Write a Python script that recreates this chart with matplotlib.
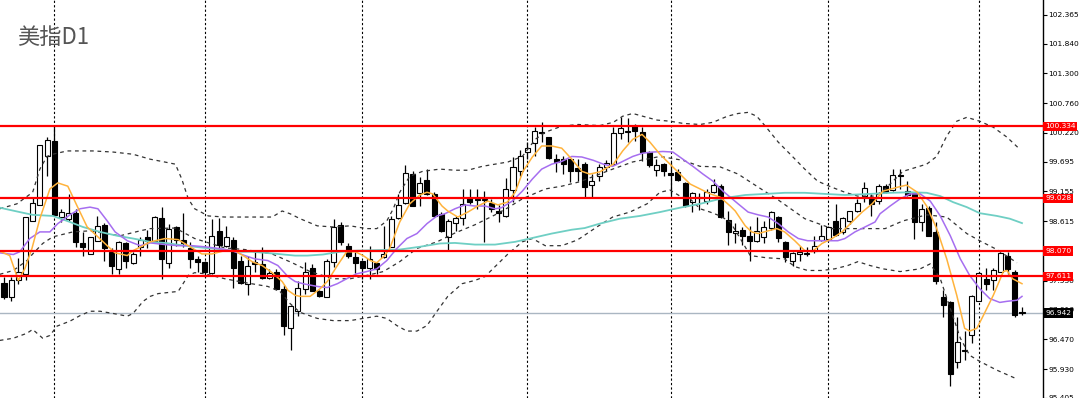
import matplotlib
matplotlib.use("Agg")
import matplotlib.pyplot as plt
from matplotlib.patches import Rectangle
from matplotlib.transforms import blended_transform_factory

# daily candles, oldest first
opens = [97.50, 97.23, 97.54, 97.65, 98.62, 98.91, 99.79, 100.07, 98.69, 98.66,
         98.76, 98.22, 98.01, 98.26, 98.55, 98.06, 97.75, 98.22, 97.86, 98.15,
         98.33, 98.26, 98.67, 97.86, 98.51, 98.28, 98.12, 97.92, 97.88, 97.68,
         98.44, 98.17, 98.28, 97.90, 97.48, 97.88, 97.84, 97.59, 97.70, 97.39,
         96.67, 96.99, 97.39, 97.77, 97.34, 97.23, 97.88, 98.55, 98.17, 97.97,
         97.90, 97.77, 97.86, 97.97, 98.15, 98.68, 98.95, 99.47, 99.13, 99.36,
         99.11, 98.75, 98.33, 98.58, 98.67, 99.04, 99.02, 99.02, 98.95, 98.80,
         98.71, 99.18, 99.52, 99.87, 100.03, 100.23, 100.14, 99.74, 99.74, 99.74,
         99.58, 99.65, 99.27, 99.43, 99.60, 99.65, 100.21, 100.23, 100.34, 100.23,
         99.87, 99.54, 99.65, 99.49, 99.51, 99.31, 98.96, 99.04, 98.98, 99.14,
         99.25, 98.64, 98.40, 98.46, 98.35, 98.26, 98.33, 98.50, 98.69, 98.24,
         97.90, 98.01, 98.04, 98.08, 98.28, 98.30, 98.62, 98.42, 98.62, 98.80,
         99.07, 99.02, 98.98, 99.25, 99.18, 99.45, 99.16, 99.13, 98.60, 98.86,
         98.42, 97.23, 97.14, 96.06, 96.27, 96.54, 97.16, 97.56, 97.54, 97.70,
         97.99, 97.70, 96.97]
highs = [97.61, 97.61, 97.95, 98.69, 99.04, 99.99, 100.14, 100.36, 98.84, 99.11,
         98.84, 98.42, 98.33, 98.71, 98.58, 98.12, 98.26, 98.24, 98.06, 98.33,
         98.46, 98.71, 98.87, 98.57, 98.53, 98.77, 98.24, 97.99, 97.90, 98.66,
         98.67, 98.53, 98.33, 97.99, 97.99, 98.08, 98.15, 97.75, 97.75, 97.45,
         97.09, 97.52, 97.88, 97.84, 97.36, 97.93, 98.66, 98.60, 98.21, 98.06,
         97.90, 98.17, 97.88, 98.53, 98.71, 99.11, 99.63, 99.52, 99.42, 99.56,
         99.14, 98.78, 98.66, 98.71, 99.20, 99.20, 99.20, 99.16, 99.02, 98.91,
         99.40, 99.78, 99.90, 100.05, 100.32, 100.41, 100.14, 99.83, 99.80, 99.74,
         99.74, 99.69, 99.47, 99.65, 99.72, 100.32, 100.50, 100.48, 100.37, 100.32,
         99.89, 99.74, 99.67, 99.69, 99.56, 99.32, 99.14, 99.13, 99.20, 99.38,
         99.29, 98.80, 98.58, 98.51, 98.53, 98.69, 98.62, 98.80, 98.71, 98.26,
         98.06, 98.17, 98.15, 98.35, 98.55, 98.53, 98.93, 98.69, 98.80, 99.02,
         99.32, 99.11, 99.29, 99.29, 99.56, 99.56, 99.34, 99.14, 98.93, 98.89,
         98.60, 97.36, 97.16, 96.87, 96.62, 97.27, 97.70, 97.77, 97.77, 98.06,
         98.06, 97.72, 97.05]
lows = [97.21, 97.16, 97.47, 97.54, 98.62, 98.91, 99.43, 98.73, 98.60, 98.62,
        98.15, 97.99, 98.01, 98.26, 97.90, 97.65, 97.66, 97.77, 97.83, 97.99,
        98.12, 98.24, 97.57, 97.77, 98.17, 98.15, 97.77, 97.70, 97.61, 97.66,
        98.13, 98.15, 97.41, 97.48, 97.27, 97.70, 97.57, 97.57, 97.36, 96.54,
        96.27, 96.90, 97.30, 97.34, 97.23, 97.23, 97.79, 98.19, 97.95, 97.68,
        97.57, 97.56, 97.65, 97.95, 98.15, 98.66, 98.93, 98.89, 98.89, 99.09,
        98.69, 98.42, 98.08, 98.44, 98.55, 98.93, 98.84, 98.24, 98.78, 98.60,
        98.69, 98.96, 99.43, 99.74, 99.80, 100.05, 99.74, 99.51, 99.47, 99.32,
        99.34, 99.05, 99.05, 99.34, 99.52, 99.63, 100.10, 100.05, 100.07, 99.70,
        99.60, 99.43, 99.43, 99.07, 99.34, 98.87, 98.78, 98.82, 98.93, 99.13,
        98.67, 98.19, 98.21, 98.19, 97.90, 98.24, 98.22, 98.46, 98.24, 97.88,
        97.81, 97.90, 97.99, 98.03, 98.26, 98.26, 98.35, 98.39, 98.57, 98.78,
        98.96, 98.71, 98.93, 99.13, 99.16, 99.20, 99.07, 98.30, 98.44, 98.35,
        97.48, 96.87, 95.62, 95.95, 96.09, 96.40, 97.16, 97.36, 97.36, 97.70,
        97.66, 96.87, 96.92]
closes = [97.23, 97.54, 97.70, 98.69, 98.95, 99.99, 100.08, 98.73, 98.78, 98.76,
          98.24, 98.15, 98.33, 98.53, 98.12, 97.81, 98.24, 97.90, 98.01, 98.28,
          98.26, 98.69, 97.92, 98.48, 98.28, 98.21, 97.92, 97.88, 97.70, 98.35,
          98.19, 98.33, 97.77, 97.50, 97.81, 97.83, 97.59, 97.68, 97.39, 96.71,
          97.07, 97.41, 97.70, 97.34, 97.25, 97.90, 98.51, 98.24, 97.99, 97.86,
          97.77, 97.93, 97.74, 98.01, 98.66, 98.91, 99.49, 98.89, 99.31, 99.11,
          98.71, 98.44, 98.62, 98.67, 98.93, 98.96, 99.00, 99.00, 98.84, 98.77,
          99.20, 99.60, 99.80, 99.94, 100.26, 100.21, 99.76, 99.69, 99.65, 99.52,
          99.52, 99.23, 99.34, 99.60, 99.67, 100.21, 100.30, 100.26, 100.25, 99.87,
          99.63, 99.63, 99.52, 99.45, 99.36, 98.89, 99.13, 99.06, 99.14, 99.27,
          98.69, 98.42, 98.44, 98.35, 98.26, 98.44, 98.51, 98.78, 98.31, 97.97,
          98.03, 98.06, 98.02, 98.17, 98.35, 98.51, 98.37, 98.67, 98.80, 98.95,
          99.22, 98.93, 99.25, 99.15, 99.45, 99.43, 99.09, 98.60, 98.84, 98.35,
          97.52, 97.10, 95.84, 96.42, 96.26, 97.25, 97.68, 97.47, 97.72, 98.04,
          97.74, 96.92, 96.94]

# indicator lines (x = candle index)
ma5_x = [-0.4, 0.8, 2.0, 2.9, 3.9, 5.0, 6.4, 7.5, 8.9, 10.2, 11.6, 13.1, 14.4, 15.5, 17.2,
         18.0, 19.4, 20.4, 22.5, 24.3, 25.7, 27.6, 29.0, 30.8, 32.2, 33.6, 34.6, 36.0, 37.4,
         38.8, 39.6, 40.6, 41.3, 42.7, 44.1, 45.1, 46.5, 47.8, 49.0, 50.1, 51.1, 52.0, 53.1,
         53.8, 55.2, 56.6, 58.0, 59.0, 59.8, 61.1, 61.9, 63.3, 64.7, 66.1, 67.5, 68.9, 70.2,
         71.3, 72.4, 73.7, 75.0, 76.4, 77.8, 79.2, 80.6, 81.7, 83.1, 85.0, 86.3, 87.7, 89.0,
         90.1, 91.5, 92.9, 94.3, 95.7, 97.1, 98.5, 99.9, 101.3, 102.0, 103.4, 104.3, 105.2,
         106.6, 107.8, 108.9, 110.3, 111.7, 112.7, 114.1, 115.5, 116.9, 118.3, 119.7, 121.1,
         122.6, 124.6, 125.9, 127.4, 128.7, 130.1, 131.5, 132.9, 134.0, 134.7, 135.7, 136.6,
         138.0, 139.4, 139.9, 140.7, 142.0]
ma5_y = [98.06, 97.99, 97.54, 97.75, 98.12, 98.66, 99.20, 99.31, 99.25, 98.89, 98.51, 98.33,
         98.17, 98.04, 97.99, 98.08, 98.17, 98.24, 98.30, 98.28, 98.17, 98.02, 98.02, 98.08,
         98.08, 97.97, 97.88, 97.81, 97.68, 97.52, 97.36, 97.27, 97.25, 97.25, 97.39, 97.52,
         97.81, 98.06, 98.06, 97.99, 97.90, 97.86, 97.99, 98.12, 98.60, 98.93, 99.09, 99.14,
         99.11, 98.89, 98.80, 98.69, 98.78, 98.89, 98.98, 98.91, 98.96, 99.14, 99.52, 99.78,
         99.98, 99.98, 99.94, 99.74, 99.52, 99.47, 99.51, 99.65, 99.89, 100.10, 100.19, 100.05,
         99.83, 99.65, 99.47, 99.29, 99.20, 99.11, 99.05, 98.89, 98.80, 98.53, 98.42, 98.39,
         98.44, 98.48, 98.42, 98.26, 98.08, 98.06, 98.21, 98.30, 98.42, 98.60, 98.78, 98.93,
         99.16, 99.23, 99.27, 99.14, 98.89, 98.48, 97.93, 97.27, 96.67, 96.62, 96.67, 96.90,
         97.27, 97.70, 97.72, 97.57, 97.48]

ma10_x = [-0.6, 1.3, 2.2, 3.6, 5.0, 6.4, 7.5, 9.2, 10.6, 12.0, 13.1, 14.4, 15.5, 17.2, 19.0,
          20.4, 22.5, 24.3, 26.2, 28.0, 29.9, 31.8, 33.6, 35.0, 36.8, 38.2, 39.6, 40.6, 41.7,
          43.7, 45.1, 46.5, 47.8, 49.2, 50.6, 52.0, 53.4, 54.8, 56.2, 57.6, 59.0, 60.4, 61.5,
          62.9, 64.3, 65.7, 67.1, 68.5, 69.4, 70.9, 72.3, 73.7, 75.0, 76.4, 77.8, 79.2, 80.6,
          82.2, 83.6, 84.9, 86.3, 87.7, 89.1, 90.5, 91.9, 93.3, 94.7, 96.1, 97.5, 98.9, 100.3,
          101.3, 102.4, 103.8, 105.2, 106.6, 108.0, 109.4, 110.8, 112.1, 113.5, 114.9, 116.3,
          117.3, 118.7, 120.1, 121.5, 122.2, 123.6, 125.0, 126.4, 127.8, 129.2, 130.6, 132.0,
          133.4, 134.7, 136.1, 137.5, 138.9, 139.9, 141.3, 142.0]
ma10_y = [98.04, 98.01, 98.06, 98.30, 98.42, 98.42, 98.57, 98.73, 98.84, 98.87, 98.84, 98.62,
          98.42, 98.26, 98.17, 98.22, 98.19, 98.17, 98.17, 98.15, 98.12, 98.08, 97.99, 97.93,
          97.90, 97.81, 97.61, 97.52, 97.48, 97.43, 97.41, 97.48, 97.57, 97.66, 97.70, 97.75,
          97.90, 98.12, 98.30, 98.39, 98.57, 98.71, 98.75, 98.84, 98.91, 98.89, 98.89, 98.84,
          98.86, 98.98, 99.16, 99.38, 99.56, 99.65, 99.70, 99.79, 99.78, 99.72, 99.65, 99.61,
          99.70, 99.79, 99.85, 99.87, 99.88, 99.87, 99.74, 99.61, 99.47, 99.34, 99.16, 99.05,
          98.93, 98.78, 98.73, 98.69, 98.57, 98.42, 98.30, 98.26, 98.26, 98.26, 98.26, 98.30,
          98.42, 98.51, 98.60, 98.75, 98.89, 99.02, 99.11, 99.11, 98.98, 98.71, 98.35, 97.93,
          97.63, 97.39, 97.21, 97.14, 97.16, 97.18, 97.25]

ma60_x = [-0.6, 2.2, 4.0, 6.8, 8.8, 11.0, 13.4, 15.8, 18.0, 20.4, 22.5, 25.2, 28.0, 30.8,
          32.6, 34.6, 38.2, 40.6, 42.3, 44.5, 46.9, 49.2, 55.2, 58.0, 60.8, 62.9, 65.7, 68.5,
          71.3, 73.7, 76.4, 79.2, 81.0, 83.1, 85.9, 88.7, 91.5, 94.3, 97.1, 99.9, 101.3, 103.4,
          106.2, 108.9, 111.7, 114.5, 117.3, 120.8, 123.6, 126.4, 128.7, 130.6, 132.4, 134.3,
          136.1, 138.5, 140.3, 142.0]
ma60_y = [98.86, 98.78, 98.73, 98.71, 98.62, 98.51, 98.42, 98.35, 98.30, 98.24, 98.22, 98.17,
          98.13, 98.10, 98.06, 98.06, 98.02, 97.99, 97.99, 98.01, 98.06, 98.08, 98.10, 98.15,
          98.21, 98.22, 98.19, 98.19, 98.24, 98.31, 98.39, 98.46, 98.49, 98.57, 98.66, 98.71,
          98.78, 98.86, 98.93, 99.02, 99.05, 99.09, 99.11, 99.13, 99.13, 99.11, 99.09, 99.11,
          99.13, 99.14, 99.13, 99.07, 98.96, 98.87, 98.76, 98.71, 98.66, 98.58]

bb_up_x = [-0.6, 1.8, 4.0, 5.0, 6.0, 6.8, 8.8, 12.4, 15.2, 18.0, 20.4, 22.0, 23.9, 24.8, 25.7,
           26.6, 28.5, 30.8, 33.6, 37.4, 38.8, 39.9, 41.3, 43.7, 45.9, 48.3, 50.6, 52.0, 53.4,
           54.3, 55.2, 56.6, 58.4, 60.8, 62.9, 64.7, 66.7, 68.5, 70.3, 72.3, 74.1, 75.5, 77.8,
           80.1, 83.1, 85.0, 86.3, 87.7, 89.1, 91.1, 92.9, 94.7, 97.1, 98.9, 100.9, 102.4,
           103.8, 105.0, 106.2, 108.0, 109.9, 111.7, 113.5, 115.5, 117.3, 119.1, 121.5, 122.9,
           125.4, 128.7, 130.1, 131.5, 132.9, 134.3, 136.1, 138.0, 139.9, 141.7]
bb_up_y = [98.84, 98.93, 99.14, 99.56, 99.79, 99.83, 99.89, 99.89, 99.87, 99.83, 99.74, 99.70,
           99.65, 99.38, 99.02, 98.84, 98.71, 98.69, 98.69, 98.69, 98.80, 98.75, 98.66, 98.53,
           98.51, 98.53, 98.48, 98.48, 98.62, 98.84, 99.14, 99.43, 99.52, 99.56, 99.54, 99.54,
           99.61, 99.65, 99.69, 99.79, 100.10, 100.23, 100.34, 100.37, 100.35, 100.41, 100.52,
           100.57, 100.52, 100.45, 100.43, 100.39, 100.37, 100.41, 100.52, 100.57, 100.59,
           100.52, 100.34, 100.05, 99.80, 99.56, 99.34, 99.23, 99.14, 99.07, 99.07, 99.20,
           99.52, 99.65, 99.79, 100.16, 100.43, 100.50, 100.43, 100.32, 100.14, 99.92]

bb_mid_x = [-0.6, 1.3, 3.2, 4.0, 5.4, 6.8, 9.6, 12.0, 13.8, 16.2, 19.0, 20.4, 23.9, 26.6,
            30.8, 33.6, 37.4, 40.2, 42.7, 45.9, 48.3, 50.6, 52.9, 55.2, 57.6, 60.4, 62.9,
            65.7, 68.5, 70.3, 72.3, 75.5, 77.8, 80.3, 84.9, 87.7, 91.5, 94.7, 97.1, 99.9,
            102.4, 105.0, 108.0, 111.7, 115.5, 119.1, 122.9, 125.4, 128.7, 131.5, 134.3,
            136.1, 138.5, 141.3]
bb_mid_y = [97.65, 97.72, 97.90, 98.02, 98.21, 98.33, 98.42, 98.44, 98.40, 98.35, 98.44, 98.48,
            98.49, 98.30, 98.13, 98.10, 98.02, 97.86, 97.70, 97.57, 97.57, 97.63, 97.70, 97.88,
            98.12, 98.24, 98.40, 98.55, 98.73, 98.86, 99.02, 99.20, 99.25, 99.33, 99.56, 99.69,
            99.79, 99.72, 99.61, 99.60, 99.47, 99.25, 99.00, 98.66, 98.48, 98.48, 98.48, 98.62,
            98.73, 98.69, 98.39, 98.26, 98.10, 97.86]

bb_low_x = [-0.6, 1.3, 3.2, 4.0, 5.4, 6.4, 7.4, 9.2, 10.6, 12.0, 13.4, 15.2, 17.2, 18.0, 19.4,
            20.4, 21.5, 24.3, 25.7, 26.6, 28.0, 30.8, 33.6, 36.8, 38.5, 39.9, 41.3, 43.7, 45.9,
            48.3, 50.1, 52.0, 53.4, 54.8, 56.2, 57.6, 59.0, 60.4, 61.9, 63.9, 65.7, 67.1, 68.5,
            70.3, 72.3, 73.7, 75.5, 77.8, 79.7, 80.3, 82.7, 84.9, 87.3, 89.7, 91.5, 92.9, 94.3,
            95.7, 97.1, 98.5, 99.9, 101.3, 102.7, 104.1, 106.4, 108.9, 110.3, 112.1, 114.1,
            115.9, 117.7, 119.1, 120.8, 122.6, 125.0, 127.8, 129.2, 130.6, 132.0, 133.4, 134.7,
            136.1, 138.5, 141.3]
bb_low_y = [96.45, 96.49, 96.58, 96.65, 96.49, 96.54, 96.71, 96.80, 96.90, 96.98, 96.98, 96.94,
            96.89, 96.94, 97.16, 97.25, 97.30, 97.34, 97.63, 97.68, 97.66, 97.57, 97.50, 97.43,
            97.34, 97.12, 96.96, 96.85, 96.81, 96.81, 96.85, 96.89, 96.85, 96.72, 96.62, 96.62,
            96.72, 96.98, 97.25, 97.48, 97.54, 97.61, 97.79, 98.02, 98.24, 98.30, 98.17, 98.17,
            98.26, 98.30, 98.51, 98.69, 98.78, 98.93, 99.14, 99.18, 99.07, 99.02, 98.84, 98.78,
            98.71, 98.60, 98.30, 97.99, 97.95, 97.93, 97.79, 97.72, 97.72, 97.75, 97.81, 97.88,
            97.81, 97.75, 97.70, 97.75, 97.84, 97.57, 97.03, 96.49, 96.18, 96.07, 95.91, 95.75]

level_prices = [100.334, 99.028, 98.070, 97.611]
last_price = 96.942
month_starts = [7, 28, 50, 73, 93, 115, 136]
price_ticks = [102.365, 101.840, 101.300, 100.760, 100.220, 99.695, 99.155, 98.615,
               97.530, 97.010, 96.470, 95.930, 95.405]

fig = plt.figure(figsize=(10.8, 3.98), dpi=100)
ax = fig.add_axes([0, 0, 1043 / 1080, 1])

# candles
for i in range(len(opens)):
    o, h, l, c = opens[i], highs[i], lows[i], closes[i]
    ax.vlines(i, l, h, color="black", lw=0.9, zorder=3)
    bottom = min(o, c)
    height = max(abs(c - o), 0.012)
    face = "white" if c >= o else "black"
    ax.add_patch(Rectangle((i - 0.35, bottom), 0.7, height, facecolor=face,
                           edgecolor="black", lw=0.8, zorder=4))

# indicators
bb_style = dict(color="#333333", lw=0.9, linestyle=(0, (3, 3)), zorder=5)
ax.plot(bb_up_x, bb_up_y, **bb_style)
ax.plot(bb_mid_x, bb_mid_y, **bb_style)
ax.plot(bb_low_x, bb_low_y, **bb_style)
ax.plot(ma60_x, ma60_y, color="#6fcfc4", lw=1.3, zorder=5)
ax.plot(ma10_x, ma10_y, color="#a66ef0", lw=1.1, zorder=5)
ax.plot(ma5_x, ma5_y, color="#ffb33c", lw=1.1, zorder=5)

# month separators
for m in month_starts:
    ax.axvline(m, color="black", lw=0.8, linestyle=(0, (2, 2)), zorder=1)

# levels
for p in level_prices:
    ax.axhline(p, color="#ff0000", lw=1.6, zorder=6)
ax.axhline(last_price, color="#aab6c2", lw=1.0, zorder=2)

ax.set_xlim(-0.558, 144.93)
ax.set_ylim(95.443, 102.63)

ax.yaxis.tick_right()
ax.set_yticks(price_ticks)
ax.set_yticklabels([f"{t:.3f}" for t in price_ticks])
ax.tick_params(axis="y", length=3, width=0.8, pad=1, labelsize=5.4, colors="black")
ax.set_xticks([])
for side in ["top", "left", "bottom"]:
    ax.spines[side].set_visible(False)
ax.spines["right"].set_linewidth(1.0)

tr = blended_transform_factory(ax.transAxes, ax.transData)
for p in level_prices:
    ax.text(1.002, p, f"{p:.3f}", transform=tr, ha="left", va="center", fontsize=5.4,
            color="white", clip_on=False, zorder=10,
            bbox=dict(boxstyle="square,pad=0.25", fc="#ff0000", ec="none"))
ax.text(1.002, last_price, f"{last_price:.3f}", transform=tr, ha="left", va="center",
        fontsize=5.4, color="white", clip_on=False, zorder=10,
        bbox=dict(boxstyle="square,pad=0.25", fc="black", ec="none"))

fig.text(17 / 1080, 1 - 37 / 398, "美指D1", fontsize=16, color="#555555",
         family=["Noto Sans CJK SC", "DejaVu Sans"], ha="left", va="center")

fig.savefig("out.png", dpi=100)
